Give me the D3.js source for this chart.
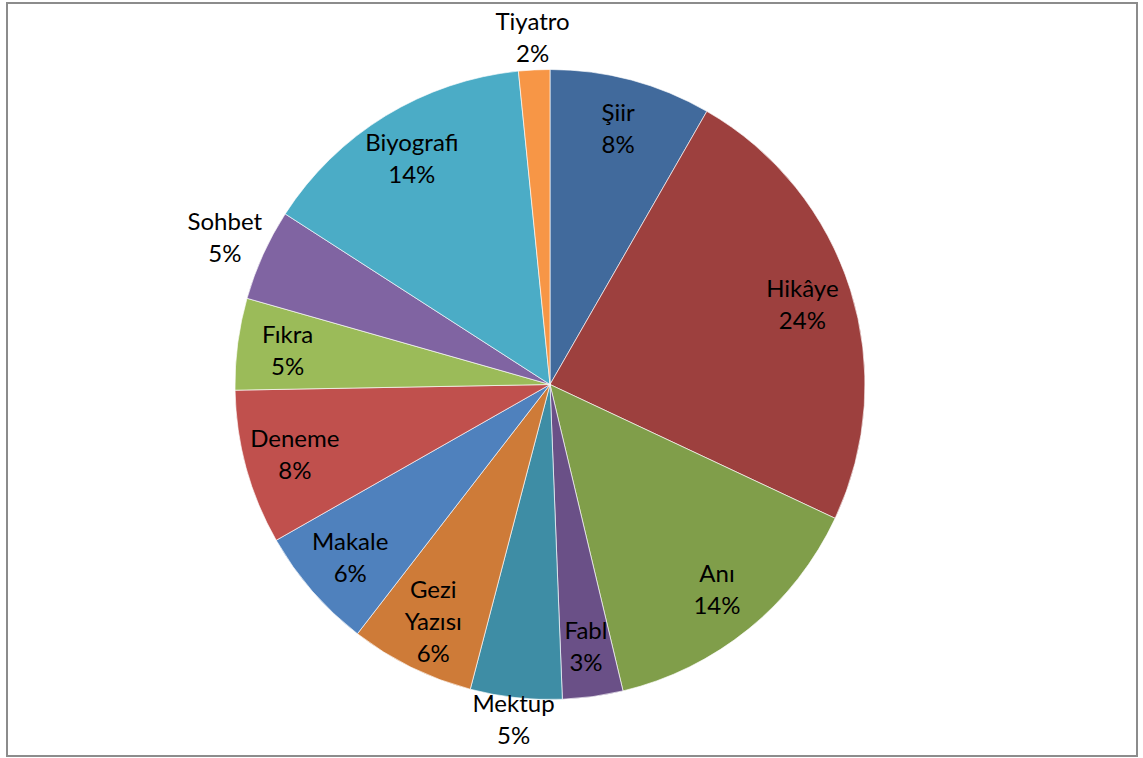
<!DOCTYPE html>
<html><head><meta charset="utf-8">
<script src="https://cdn.jsdelivr.net/npm/d3@7"></script>
<style>body{margin:0;background:#fff}svg{display:block}</style>
</head><body>
<script>
const categories = ["Şiir","Hikâye","Anı","Fabl","Mektup","Gezi Yazısı","Makale","Deneme","Fıkra","Sohbet","Biyografi","Tiyatro"];
const values = [8.3,23.7,14.3,3.1,4.7,6.4,6.3,7.95,4.7,4.7,14.3,1.6];
const colors = ["#416A9C","#9D403E","#809E4A","#6A5087","#3E8DA5","#CE7B38","#4F81BD","#C0504D","#9BBB59","#8064A2","#4BACC6","#F79646"];
const labelLines = {"Gezi Yazısı":["Gezi","Yazısı"]};
const outsideK = {"Tiyatro":1.103,"Mektup":1.07,"Sohbet":1.133};

const W=1143,H=758, cx=550, cy=384.5, R=315;
const svg=d3.select("body").append("svg").attr("width",W).attr("height",H);
svg.append("rect").attr("x",7).attr("y",3).attr("width",1130).attr("height",753)
  .attr("fill","#fff").attr("stroke","#8c8c8c").attr("stroke-width",2);
const data=categories.map((c,i)=>({c,v:values[i],col:colors[i]}));
const total=d3.sum(values);
const pie=d3.pie().value(d=>d.v).sort(null);
const arcs=pie(data);
const arc=d3.arc().innerRadius(0).outerRadius(R);
const g=svg.append("g").attr("transform",`translate(${cx},${cy})`);
g.selectAll("path").data(arcs).join("path").attr("d",arc)
  .attr("fill",d=>d.data.col).attr("stroke","#ffffff").attr("stroke-width",0.8).attr("stroke-opacity",0.8);
const lab=g.selectAll("text").data(arcs).join("text")
  .attr("font-family","Lato, 'Open Sans', sans-serif").attr("font-size",24).attr("fill","#000")
  .attr("text-anchor","middle");
lab.each(function(d){
  const k=outsideK[d.data.c]||0.84;
  const a=(d.startAngle+d.endAngle)/2;
  const x=Math.sin(a)*R*k, y=-Math.cos(a)*R*k;
  const lines=(labelLines[d.data.c]||[d.data.c]).concat([Math.round(d.data.v/total*100)+"%"]);
  const lh=32;
  const t=d3.select(this);
  lines.forEach((L,i)=>{
    t.append("tspan").attr("x",x).attr("y",y-(lines.length-1)*lh/2+i*lh).attr("dy","0.35em").text(L);
  });
});
</script>
</body></html>
